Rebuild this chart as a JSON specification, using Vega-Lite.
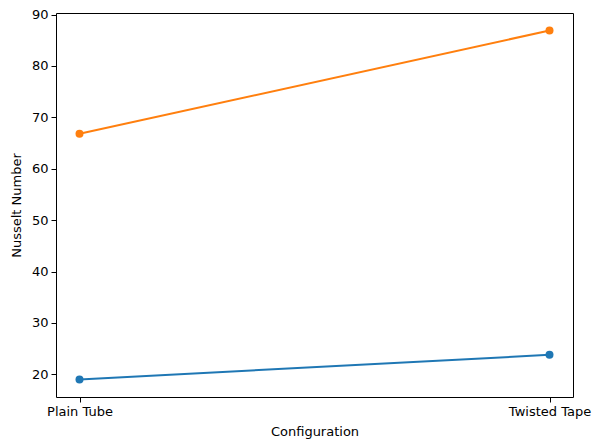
{
  "$schema": "https://vega.github.io/schema/vega-lite/v6.json",
  "width": 517,
  "height": 384,
  "autosize": "none",
  "padding": {"left": 56, "top": 13, "right": 20, "bottom": 44},
  "background": "white",
  "config": {
    "font": "DejaVu Sans",
    "view": {"stroke": "#000000", "strokeWidth": 1},
    "axis": {
      "labelFont": "DejaVu Sans",
      "titleFont": "DejaVu Sans",
      "labelFontSize": 13,
      "titleFontSize": 13,
      "titleFontWeight": "normal",
      "labelColor": "#000000",
      "titleColor": "#000000",
      "tickColor": "#000000",
      "domainColor": "#000000",
      "tickSize": 5,
      "labelPadding": 3,
      "grid": false,
      "domain": false
    }
  },
  "data": {
    "values": [
      {"config": "Plain Tube", "series": "A", "nu": 19.0},
      {"config": "Twisted Tape", "series": "A", "nu": 23.8},
      {"config": "Plain Tube", "series": "B", "nu": 66.8},
      {"config": "Twisted Tape", "series": "B", "nu": 86.9}
    ]
  },
  "encoding": {
    "x": {
      "field": "config",
      "type": "ordinal",
      "sort": ["Plain Tube", "Twisted Tape"],
      "scale": {"type": "point", "padding": 0.05},
      "axis": {"title": "Configuration", "labelAngle": 0, "titlePadding": 7}
    },
    "y": {
      "field": "nu",
      "type": "quantitative",
      "scale": {"domain": [15.6, 90.3], "nice": false, "zero": false},
      "axis": {"title": "Nusselt Number", "values": [20, 30, 40, 50, 60, 70, 80, 90], "titlePadding": 8}
    },
    "color": {
      "field": "series",
      "type": "nominal",
      "scale": {"domain": ["A", "B"], "range": ["#1f77b4", "#ff7f0e"]},
      "legend": null
    }
  },
  "layer": [
    {"mark": {"type": "line", "strokeWidth": 2}},
    {"mark": {"type": "point", "filled": true, "opacity": 1, "size": 64}}
  ]
}
